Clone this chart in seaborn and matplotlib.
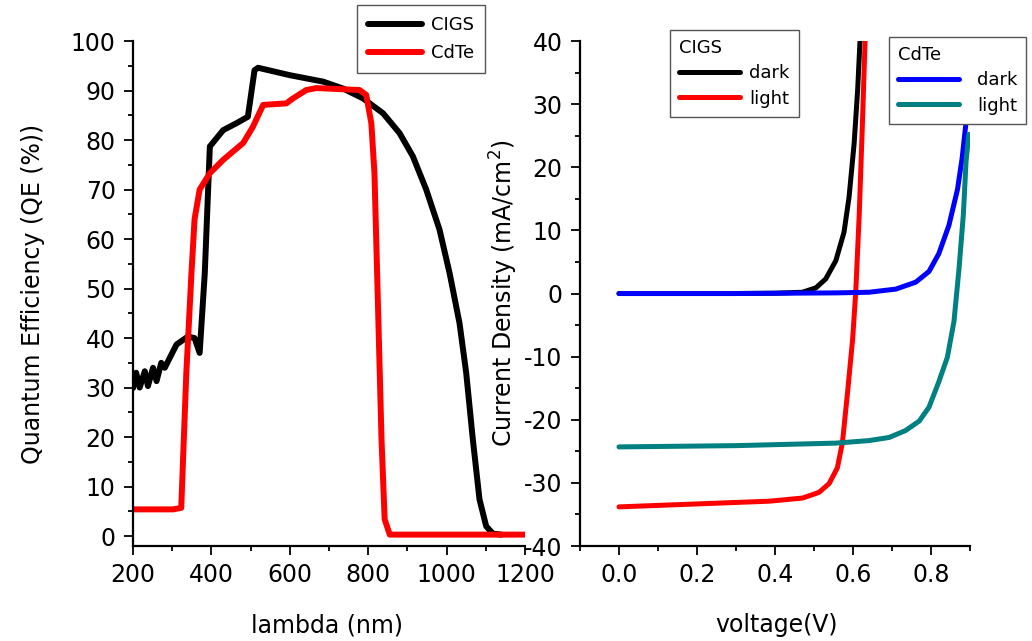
import numpy as np
import pandas as pd
import seaborn as sns
import matplotlib.pyplot as plt
from matplotlib.ticker import MultipleLocator

# ---- quantum efficiency (left panel) ----
cigs_wl = [200, 208, 217, 230, 238, 251, 260, 272, 281, 311, 340, 357, 370, 383, 396,
           430, 464, 493, 510, 519, 600, 685, 736, 787, 838, 880, 914, 948, 982,
           1008, 1033, 1050, 1067, 1084, 1101, 1118, 1140]
cigs_qe = [29.9, 33, 30, 33.3, 30.3, 34, 31.3, 35, 34, 38.7, 40.3, 40, 37, 53, 78.7,
           82, 83.4, 84.7, 94.1, 94.6, 93.1, 91.8, 90.4, 88.4, 85.4, 81.4, 76.7, 70, 61.9,
           53, 43, 33, 19.5, 7.4, 2, 0.5, 0.3]

cdte_wl = [200, 302, 323, 336, 349, 357, 370, 396, 430, 481, 506, 532, 591, 608, 642,
           668, 778, 795, 808, 816, 825, 834, 842, 855, 1200]
cdte_qe = [5.4, 5.4, 5.7, 33, 53, 64, 70, 73.3, 76, 79.4, 82.7, 87.1, 87.4, 88.4, 90.1,
           90.5, 90.1, 89.1, 83.4, 73.3, 46.4, 19.5, 3.4, 0.3, 0.3]

# ---- J-V curves (right panel) ----
cigs_dark_v = [0.0, 0.1, 0.2, 0.3, 0.4, 0.47, 0.505, 0.53, 0.556, 0.577, 0.59, 0.603, 0.612, 0.618, 0.62]
cigs_dark_j = [0.0, 0.0, 0.0, 0.0, 0.05, 0.2, 0.9, 2.3, 5.2, 9.7, 15.3, 23.8, 32.3, 40, 43]

cigs_light_v = [0.0, 0.215, 0.386, 0.471, 0.513, 0.539, 0.56, 0.573, 0.586, 0.599, 0.607,
                0.616, 0.624, 0.631, 0.633]
cigs_light_j = [-33.8, -33.3, -32.9, -32.4, -31.5, -30.1, -27.6, -23.6, -15.7, -7.3, 0.1,
                12.5, 26.6, 40, 43]

cdte_dark_v = [0.0, 0.3, 0.556, 0.641, 0.71, 0.761, 0.795, 0.82, 0.846, 0.868, 0.88, 0.89, 0.9]
cdte_dark_j = [0.0, 0.0, 0.1, 0.2, 0.7, 1.8, 3.5, 6.3, 10.8, 16.5, 21.5, 27.2, 35]

cdte_light_v = [0.0, 0.3, 0.556, 0.641, 0.693, 0.735, 0.77, 0.795, 0.82, 0.842, 0.859,
                0.872, 0.883, 0.89, 0.897]
cdte_light_j = [-24.3, -24.1, -23.7, -23.3, -22.8, -21.7, -20.2, -18, -14, -10.1, -4.4,
                4, 12.5, 21, 25.2]

sns.set_style("ticks")
plt.rcParams['font.family'] = ['DejaVu Sans']
plt.rcParams['axes.unicode_minus'] = False
plt.rcParams['text.color'] = 'black'
plt.rcParams['axes.labelcolor'] = 'black'
plt.rcParams['xtick.color'] = 'black'
plt.rcParams['ytick.color'] = 'black'
plt.rcParams['axes.edgecolor'] = 'black'

fig = plt.figure(figsize=(10.32, 6.41), dpi=100)
ax1 = fig.add_axes([0.1289, 0.1482, 0.3798, 0.7878])
ax2 = fig.add_axes([0.5620, 0.1482, 0.3779, 0.7878])

# left panel
sns.lineplot(x=cigs_wl, y=cigs_qe, ax=ax1, color="black", lw=4.3, sort=False,
             estimator=None, label="CIGS")
sns.lineplot(x=cdte_wl, y=cdte_qe, ax=ax1, color="#ff0000", lw=4.3, sort=False,
             estimator=None, label="CdTe")
ax1.set_xlim(200, 1200)
ax1.set_ylim(-2, 100)
ax1.xaxis.set_major_locator(MultipleLocator(200))
ax1.xaxis.set_minor_locator(MultipleLocator(100))
ax1.yaxis.set_major_locator(MultipleLocator(10))
ax1.yaxis.set_minor_locator(MultipleLocator(5))
ax1.set_xlabel("lambda (nm)", fontsize=17)
ax1.set_ylabel("Quantum Efficiency (QE (%))", fontsize=17)
ax1.xaxis.set_label_coords(0.495, -0.133)
ax1.yaxis.set_label_coords(-0.225, 0.5)
h1, l1 = ax1.get_legend_handles_labels()
ax1.get_legend().remove()

# right panel
sns.lineplot(x=cigs_dark_v, y=cigs_dark_j, ax=ax2, color="black", lw=3.6, sort=False,
             estimator=None, label="dark")
sns.lineplot(x=cigs_light_v, y=cigs_light_j, ax=ax2, color="#ff0000", lw=3.6, sort=False,
             estimator=None, label="light")
sns.lineplot(x=cdte_dark_v, y=cdte_dark_j, ax=ax2, color="#0000ff", lw=3.6, sort=False,
             estimator=None, label="dark")
sns.lineplot(x=cdte_light_v, y=cdte_light_j, ax=ax2, color="#008080", lw=3.6, sort=False,
             estimator=None, label="light")
ax2.set_xlim(-0.1, 0.9)
ax2.set_ylim(-40, 40)
ax2.set_xticks([0.0, 0.2, 0.4, 0.6, 0.8])
ax2.xaxis.set_minor_locator(MultipleLocator(0.1))
ax2.yaxis.set_major_locator(MultipleLocator(10))
ax2.yaxis.set_minor_locator(MultipleLocator(5))
ax2.set_xlabel("voltage(V)", fontsize=17)
ax2.set_ylabel("Current Density (mA/cm$^{2}$)", fontsize=17)
ax2.xaxis.set_label_coords(0.505, -0.133)
ax2.yaxis.set_label_coords(-0.154, 0.5)
h2, l2 = ax2.get_legend_handles_labels()
ax2.get_legend().remove()

for ax in (ax1, ax2):
    sns.despine(ax=ax)
    ax.spines['left'].set_linewidth(1.6)
    ax.spines['bottom'].set_linewidth(1.6)
    ax.tick_params(which='major', length=6.5, width=1.3, labelsize=17, pad=6,
                   direction='out', color='black', labelcolor='black')
    ax.tick_params(which='minor', length=3.6, width=1.3, direction='out', color='black')

ax2.xaxis.set_major_formatter(plt.FormatStrFormatter('%.1f'))

leg_kw = dict(loc='upper left', bbox_transform=fig.transFigure, borderaxespad=0,
              fancybox=False, framealpha=1, edgecolor='#555555')

lg1 = fig.legend(h1, l1, bbox_to_anchor=(0.346, 0.992), fontsize=13, handlelength=3.0,
                 handletextpad=0.5, labelspacing=0.55, borderpad=0.6, **leg_kw)
lg2 = fig.legend(h2[:2], l2[:2], title="CIGS", title_fontsize=13, fontsize=13,
                 bbox_to_anchor=(0.649, 0.953), handlelength=3.4, handletextpad=0.5,
                 labelspacing=0.4, borderpad=0.5, alignment='left', **leg_kw)
lg3 = fig.legend(h2[2:], l2[2:], title="CdTe", title_fontsize=13, fontsize=13,
                 bbox_to_anchor=(0.861, 0.942), handlelength=3.4, handletextpad=1.0,
                 labelspacing=0.4, borderpad=0.5, alignment='left', **leg_kw)
for lg in (lg1, lg2, lg3):
    lg.get_frame().set_linewidth(1.0)

fig.savefig("out.png", dpi=100)
